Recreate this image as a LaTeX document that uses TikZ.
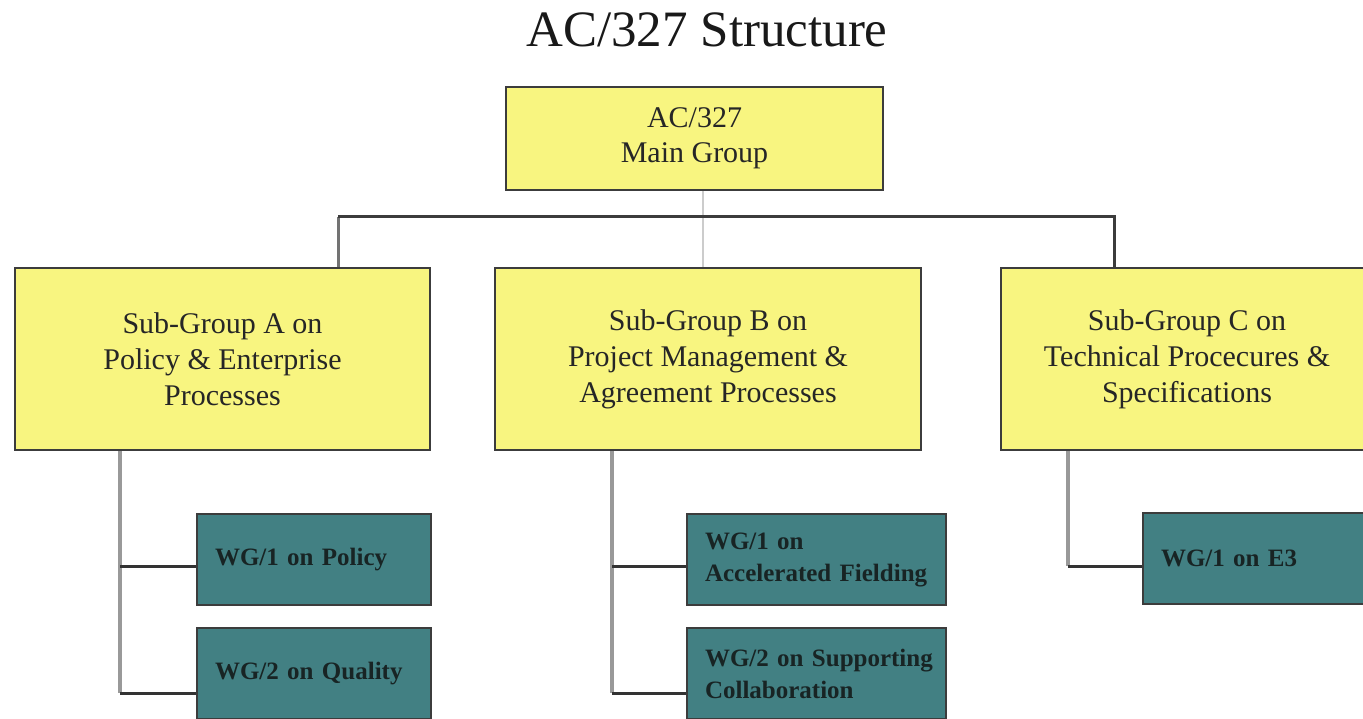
\documentclass[tikz,border=0pt]{standalone}
\usepackage{fontspec}
\setmainfont{Liberation Serif}
\definecolor{boxyellow}{RGB}{248,245,128}
\definecolor{boxteal}{RGB}{66,128,131}
\definecolor{edge}{RGB}{60,60,60}
\definecolor{wgtext}{RGB}{24,36,36}
\tikzset{
  mainbox/.style={draw=edge, line width=2.5pt, fill=boxyellow, align=center, inner sep=0pt,
    font=\fontsize{30}{35}\selectfont, text=black!85},
  subbox/.style={draw=edge, line width=2.5pt, fill=boxyellow, align=center, inner sep=0pt,
    minimum height=182pt, font=\fontsize{30}{36}\selectfont, text=black!85},
  wgbox/.style={draw=edge, line width=2.5pt, fill=boxteal, align=left, inner xsep=18pt, inner ysep=0pt,
    minimum height=91pt, font=\bfseries\fontsize{25}{32}\selectfont, text=wgtext},
  bus/.style={draw=edge, line width=3pt},
  trunk/.style={draw=black!40, line width=4pt},
  branch/.style={draw=black!80, line width=3pt},
  faint/.style={draw=black!20, line width=2pt}
}
\begin{document}
\begin{tikzpicture}[x=1pt,y=-1pt]
\clip (0,0) rectangle (1363,719);
\fill[white] (0,0) rectangle (1363,719);

\node[font=\fontsize{51}{56}\selectfont, text=black!90] (title) at (707,30) {AC/327 Structure};

\node[mainbox, minimum width=377pt, minimum height=103pt] (m) at (694.5,138.5) {AC/327\\Main Group};

\node[subbox, minimum width=415pt] (A) at (222.5,359) {Sub-Group A on\\Policy \& Enterprise\\Processes};
\node[subbox, minimum width=426pt] (B) at (708,359) {Sub-Group B on\\Project Management \&\\Agreement Processes};
\node[subbox, minimum width=372pt] (C) at (1187,359) {Sub-Group C on\\Technical Procecures \&\\Specifications};

\node[wgbox, minimum width=234pt, text width=198pt] (a1) at (314,559.5) {WG/1 on Policy};
\node[wgbox, minimum width=234pt, text width=198pt] (a2) at (314,673.5) {WG/2 on Quality};
\node[wgbox, minimum width=259pt, text width=223pt] (b1) at (816.5,559.5) {\mbox{WG/1 on}\\\mbox{Accelerated Fielding}};
\node[wgbox, minimum width=259pt, text width=223pt] (b2) at (816.5,673.5) {\mbox{WG/2 on Supporting}\\\mbox{Collaboration}};
\node[wgbox, minimum width=259pt, text width=223pt] (c1) at (1272.5,558.5) {WG/1 on E3};

% connectors from main group
\coordinate (mid) at (703,217);
\coordinate (busL) at (338,217);
\coordinate (busR) at (1114,217);
\draw[faint] (m.south -| mid) -- (B.north -| mid);
\draw[draw=black!55, line width=3pt] (A.north -| busL) -- (busL);
\draw[bus] (busL) -- (busR) -- (C.north -| busR);

% Sub-group A
\coordinate (ta1) at (120,566);
\coordinate (ta2) at (120,693);
\draw[trunk] (A.south -| ta2) -- (ta2);
\draw[branch] (ta1) -- (ta1 -| a1.west);
\draw[branch] (ta2) -- (ta2 -| a2.west);

% Sub-group B
\coordinate (tb1) at (612,566);
\coordinate (tb2) at (612,693);
\draw[trunk] (B.south -| tb2) -- (tb2);
\draw[branch] (tb1) -- (tb1 -| b1.west);
\draw[branch] (tb2) -- (tb2 -| b2.west);

% Sub-group C
\coordinate (tc1) at (1068,566);
\draw[trunk] (C.south -| tc1) -- (tc1);
\draw[branch] (tc1) -- (tc1 -| c1.west);
\end{tikzpicture}
\end{document}
